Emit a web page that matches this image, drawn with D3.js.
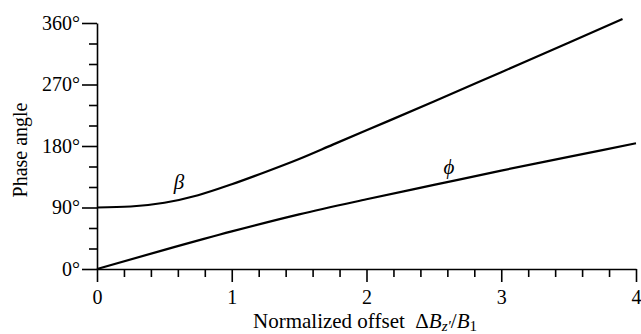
<!DOCTYPE html>
<html>
<head>
<meta charset="utf-8">
<script src="https://cdn.jsdelivr.net/npm/d3@7"></script>
<style>
  body { margin: 0; background: #fff; }
  svg { display: block; }
  text { font-family: 'Liberation Serif', 'Times New Roman', serif; fill: #000; }
</style>
</head>
<body>
<script>
// offset values (ΔBz'/B1) and phase angles in degrees
const betaX = [0, 0.25, 0.5, 0.75, 1, 1.25, 1.5, 1.75, 2, 2.5, 3, 3.5, 3.9];
const betaY = [90, 91.5, 97, 108, 124, 142, 161, 182, 203, 245, 288, 331, 366];
const phiX = [0, 0.5, 1, 1.5, 2, 2.5, 3, 3.5, 4];
const phiY = [0, 28, 55, 80, 102, 123, 144, 164, 184];

const xMajor = [0, 1, 2, 3, 4];
const yMajor = [0, 90, 180, 270, 360];

const width = 641, height = 334;

const svg = d3.select('body')
  .append('svg')
  .attr('width', width)
  .attr('height', height);

const x = d3.scaleLinear().domain([0, 4]).range([97, 636]);
const y = d3.scaleLinear().domain([0, 360]).range([269, 23]);

// minor ticks first, then the labelled ones
const xMinor = d3.range(0, 4.01, 0.2).filter(v => Math.abs(v - Math.round(v)) > 1e-6);
const yMinor = d3.range(0, 361, 30).filter(v => v % 90 !== 0);

svg.append('g')
  .attr('transform', `translate(0,${y(0)})`)
  .call(d3.axisBottom(x).tickValues(xMinor).tickSize(8).tickSizeOuter(0).tickFormat(''))
  .call(g => g.select('.domain').remove());

svg.append('g')
  .attr('class', 'x-axis')
  .attr('transform', `translate(0,${y(0)})`)
  .call(d3.axisBottom(x).tickValues(xMajor).tickSize(13).tickSizeOuter(0).tickPadding(8).tickFormat(d3.format('d')));

svg.append('g')
  .attr('transform', `translate(${x(0)},0)`)
  .call(d3.axisLeft(y).tickValues(yMinor).tickSize(8).tickSizeOuter(0).tickFormat(''))
  .call(g => g.select('.domain').remove());

svg.append('g')
  .attr('class', 'y-axis')
  .attr('transform', `translate(${x(0)},0)`)
  .call(d3.axisLeft(y).tickValues(yMajor).tickSize(15).tickSizeOuter(0).tickPadding(2).tickFormat(d => d + '°'));

svg.selectAll('.tick line, .domain')
  .attr('stroke', '#000')
  .attr('stroke-width', 1.6);

svg.selectAll('.tick text')
  .attr('font-size', 20)
  .style('font-family', "'Liberation Serif', serif");

// curves
const line = d3.line()
  .x(d => x(d[0]))
  .y(d => y(d[1]))
  .curve(d3.curveMonotoneX);

svg.append('path')
  .datum(d3.zip(betaX, betaY))
  .attr('d', line)
  .attr('fill', 'none')
  .attr('stroke', '#000')
  .attr('stroke-width', 2.2);

svg.append('path')
  .datum(d3.zip(phiX, phiY))
  .attr('d', line)
  .attr('fill', 'none')
  .attr('stroke', '#000')
  .attr('stroke-width', 2.2);

// curve labels
svg.append('text')
  .attr('x', 179)
  .attr('y', 189)
  .attr('text-anchor', 'middle')
  .attr('font-size', 21)
  .attr('font-style', 'italic')
  .text('β');

svg.append('text')
  .attr('x', 449)
  .attr('y', 174)
  .attr('text-anchor', 'middle')
  .attr('font-size', 21)
  .attr('font-style', 'italic')
  .text('ϕ');

// axis titles
svg.append('text')
  .attr('transform', 'translate(27,150) rotate(-90)')
  .attr('text-anchor', 'middle')
  .attr('font-size', 20)
  .text('Phase angle');

const xt = svg.append('text')
  .attr('x', 253)
  .attr('y', 328)
  .attr('font-size', 21);
xt.append('tspan').text('Normalized offset\u00a0\u00a0Δ');
xt.append('tspan').attr('font-style', 'italic').text('B');
xt.append('tspan').attr('font-size', 15).attr('dy', 3).attr('font-style', 'italic').text('z′');
xt.append('tspan').attr('dy', -3).text('/');
xt.append('tspan').attr('font-style', 'italic').text('B');
xt.append('tspan').attr('font-size', 15).attr('dy', 3).text('1');
</script>
</body>
</html>
